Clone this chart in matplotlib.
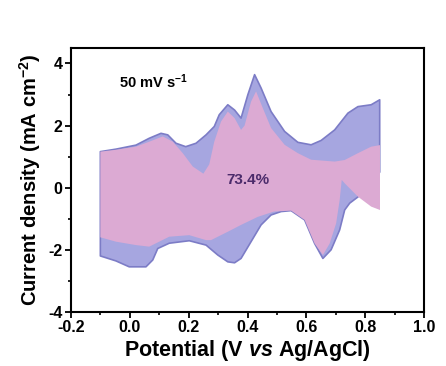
import numpy as np
import matplotlib.pyplot as plt

plt.rcParams['font.family'] = ['Liberation Sans', 'DejaVu Sans']
plt.rcParams['font.weight'] = 'bold'
plt.rcParams['axes.labelweight'] = 'bold'
plt.rcParams['mathtext.fontset'] = 'custom'
plt.rcParams['mathtext.rm'] = 'Liberation Sans:bold'
plt.rcParams['mathtext.bf'] = 'Liberation Sans:bold'
plt.rcParams['mathtext.it'] = 'Liberation Sans:italic:bold'

# outer CV (blue)
blue_up_v = [-0.10, -0.047, 0.021, 0.066, 0.106, 0.129, 0.157, 0.19, 0.225, 0.259,
             0.287, 0.304, 0.333, 0.356, 0.378, 0.401, 0.424, 0.446, 0.48, 0.526,
             0.571, 0.616, 0.65, 0.696, 0.741, 0.775, 0.82, 0.849]
blue_up_j = [1.16, 1.24, 1.37, 1.59, 1.75, 1.70, 1.43, 1.32, 1.43, 1.70,
             1.97, 2.35, 2.67, 2.50, 2.24, 2.99, 3.64, 3.21, 2.45, 1.81,
             1.46, 1.38, 1.52, 1.86, 2.40, 2.61, 2.67, 2.83]
blue_lo_v = [-0.10, -0.047, -0.002, 0.055, 0.078, 0.095, 0.134, 0.202, 0.259, 0.299,
             0.333, 0.356, 0.378, 0.412, 0.446, 0.48, 0.514, 0.548, 0.594, 0.628,
             0.656, 0.684, 0.713, 0.73, 0.747, 0.775, 0.81, 0.849]
blue_lo_j = [-2.2, -2.36, -2.55, -2.55, -2.33, -1.96, -1.79, -1.71, -1.85, -2.17,
             -2.39, -2.42, -2.28, -1.74, -1.2, -0.88, -0.77, -0.74, -1.04, -1.8,
             -2.28, -2.0, -1.36, -0.72, -0.5, -0.3, 0.0, 0.5]

# inner CV (pink)
pink_up_v = [-0.10, -0.047, 0.021, 0.066, 0.112, 0.146, 0.18, 0.214, 0.25, 0.27,
             0.287, 0.31, 0.333, 0.356, 0.378, 0.39, 0.412, 0.429, 0.452, 0.48,
             0.526, 0.571, 0.616, 0.696, 0.73, 0.775, 0.82, 0.85]
pink_up_j = [1.16, 1.22, 1.32, 1.48, 1.65, 1.48, 1.11, 0.68, 0.45, 0.75,
             1.48, 2.13, 2.45, 2.24, 1.86, 2.0, 2.77, 3.1, 2.56, 1.92,
             1.38, 1.11, 0.9, 0.84, 0.89, 1.11, 1.32, 1.37]
pink_lo_v = [-0.10, -0.047, 0.021, 0.066, 0.10, 0.134, 0.202, 0.259, 0.276, 0.333,
             0.378, 0.435, 0.49, 0.548, 0.594, 0.628, 0.656, 0.679, 0.701, 0.713,
             0.72, 0.73, 0.775, 0.82, 0.85]
pink_lo_j = [-1.6, -1.74, -1.85, -1.9, -1.74, -1.58, -1.53, -1.69, -1.69, -1.42,
             -1.2, -0.94, -0.77, -0.74, -1.04, -1.8, -2.17, -1.8, -1.15, -0.4,
             0.25, 0.14, -0.29, -0.61, -0.72]

fig = plt.figure(figsize=(4.46, 3.66), dpi=100)
ax = fig.add_axes([0.159, 0.148, 0.792, 0.721])

bx = blue_up_v + blue_lo_v[::-1]
by = blue_up_j + blue_lo_j[::-1]
ax.fill(bx, by, facecolor='#a6a6e0', edgecolor='#7c7cc6', lw=1.2, joinstyle='round')

px = pink_up_v + pink_lo_v[::-1]
py = pink_up_j + pink_lo_j[::-1]
ax.fill(px, py, facecolor='#dcaad3', edgecolor='none')

ax.text(-0.035, 3.4, '50 mV s$^{-1}$', fontsize=10.5, va='center')
ax.text(0.40, 0.25, '73.4%', fontsize=11, color='#4b2b6b', ha='center', va='center')

ax.set_xlim(-0.2, 1.0)
ax.set_ylim(-4, 4.5)
ax.set_xticks(np.arange(-0.2, 1.01, 0.2))
ax.set_xticks(np.arange(-0.1, 1.0, 0.2), minor=True)
ax.set_yticks([-4, -2, 0, 2, 4])
ax.set_yticks([-3, -1, 1, 3], minor=True)
ax.set_xticklabels(['-0.2', '0.0', '0.2', '0.4', '0.6', '0.8', '1.0'])
ax.set_yticklabels(['-4', '-2', '0', '2', '4'])
ax.tick_params(which='major', length=4, width=1.3, labelsize=11.5, pad=2)
ax.tick_params(which='minor', length=2.5, width=1.2)
for s in ax.spines.values():
    s.set_linewidth(1.5)

ax.set_xlabel('Potential (V $\\it{vs}$ Ag/AgCl)', fontsize=15.5, labelpad=2)
ax.set_ylabel('Current density (mA cm$^{-2}$)', fontsize=14.5, labelpad=4)

fig.savefig('out.png', dpi=100)
